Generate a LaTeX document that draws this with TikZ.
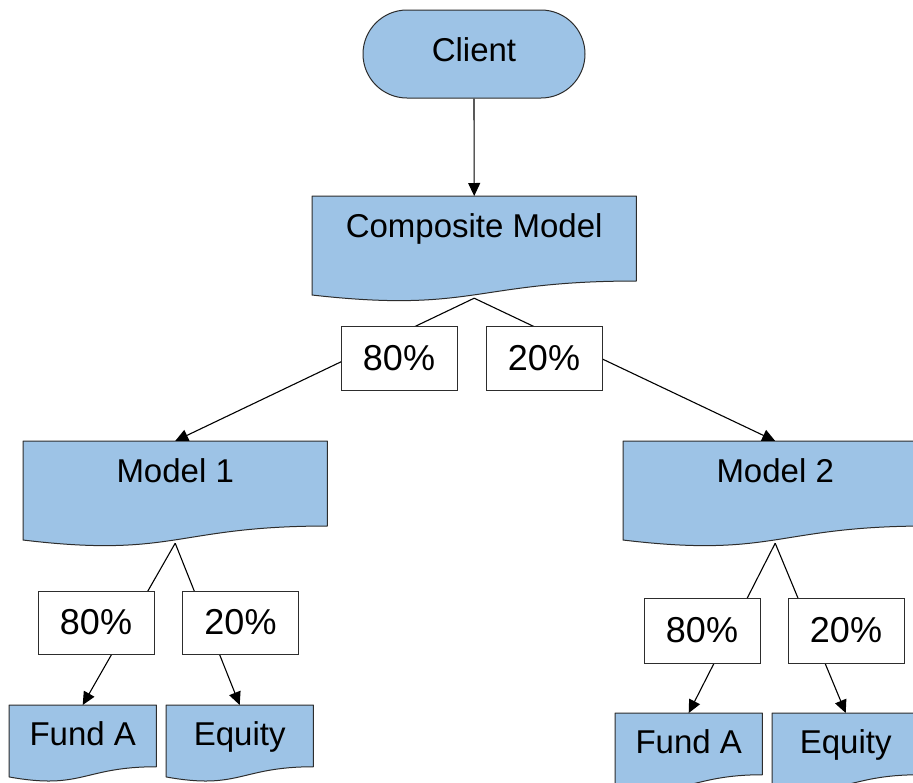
\documentclass[tikz,border=0pt]{standalone}
\usepackage{fontspec}
\setmainfont{Liberation Sans}
\usetikzlibrary{arrows.meta,calc}

\definecolor{docblue}{RGB}{157,195,230}
\definecolor{edge}{RGB}{45,45,45}

\pgfdeclarelayer{shapes}
\pgfdeclarelayer{links}
\pgfsetlayers{shapes,links,main}

% Flowchart "document" outline behind a node: #1 node name, #2 full height
\newcommand\docoutline[2]{%
  \path[docfill] (#1.north west) -- (#1.north east)
    -- ($(#1.north east)+(0,.802*#2)$)
    .. controls ($(#1.north)+(0,.802*#2)$) and ($(#1.north)+(0,1.107*#2)$)
    .. ($(#1.north west)+(0,.934*#2)$) -- cycle;}

\tikzset{
  docfill/.style={fill=docblue, draw=edge, line width=1pt, line join=round},
  docnode/.style={rectangle, inner sep=0pt, anchor=north west,
    font=\fontsize{33}{40}\selectfont},
  bigdoc/.style={docnode, minimum width=#1, text height=40.8pt, text depth=61pt},
  smalldoc/.style={docnode, minimum width=147pt, text height=39.8pt, text depth=34.1pt},
  terminal/.style={rectangle, rounded corners=44pt, fill=docblue, draw=edge,
    line width=1pt, minimum width=222pt, minimum height=88pt, inner sep=0pt,
    text height=23.6pt, text depth=8pt, font=\fontsize{33}{40}\selectfont},
  share/.style={rectangle, fill=white, draw=edge, line width=1pt,
    minimum width=116pt, minimum height=64pt, inner sep=0pt,
    font=\fontsize{36}{42}\selectfont},
  link/.style={draw=black, line width=1.1pt,
    -{Triangle[length=13pt,width=12pt]}},
}

\begin{document}
\begin{tikzpicture}[x=1pt,y=-1pt]
\useasboundingbox (0,0) rectangle (913,782);
\begin{pgfonlayer}{shapes}
  \fill[white] (0,0) rectangle (913,782);
\end{pgfonlayer}

% client and top-level model
\node[terminal] (client) at (474,54) {Client};
\node[bigdoc=324pt] (comp) at (312,196) {Composite Model};

% sub-models
\node[bigdoc=304pt] (m1) at (23,441) {Model 1};
\node[bigdoc=304pt] (m2) at (623,441) {Model 2};

% funds
\node[smalldoc] (fa1) at (9,705) {Fund A};
\node[smalldoc] (eq1) at (166,705) {Equity};
\node[smalldoc] (fa2) at (615,713) {Fund A};
\node[smalldoc] (eq2) at (772,713) {Equity};

\begin{pgfonlayer}{shapes}
  \docoutline{comp}{106}
  \docoutline{m1}{106}
  \docoutline{m2}{106}
  \docoutline{fa1}{77}
  \docoutline{eq1}{77}
  \docoutline{fa2}{77}
  \docoutline{eq2}{77}
\end{pgfonlayer}

% weights
\node[share] (c80) at (399,358) {80\%};
\node[share] (c20) at (544,358) {20\%};
\node[share, minimum height=63pt] (a80) at (96,622.5) {80\%};
\node[share, minimum height=63pt] (a20) at (240.5,622.5) {20\%};
\node[share, minimum height=65pt] (b80) at (702,630.5) {80\%};
\node[share, minimum height=65pt] (b20) at (846,630.5) {20\%};

\begin{pgfonlayer}{links}
  \draw[link] (client.south) -- (comp.north);
  \draw[link] (comp.south) -- (m1.north);
  \draw[link] (comp.south) -- (m2.north);
  \draw[link] (m1.south) -- (fa1.north);
  \draw[link] (m1.south) -- (eq1.north);
  \draw[link] (m2.south) -- (fa2.north);
  \draw[link] (m2.south) -- (eq2.north);
\end{pgfonlayer}
\end{tikzpicture}
\end{document}
